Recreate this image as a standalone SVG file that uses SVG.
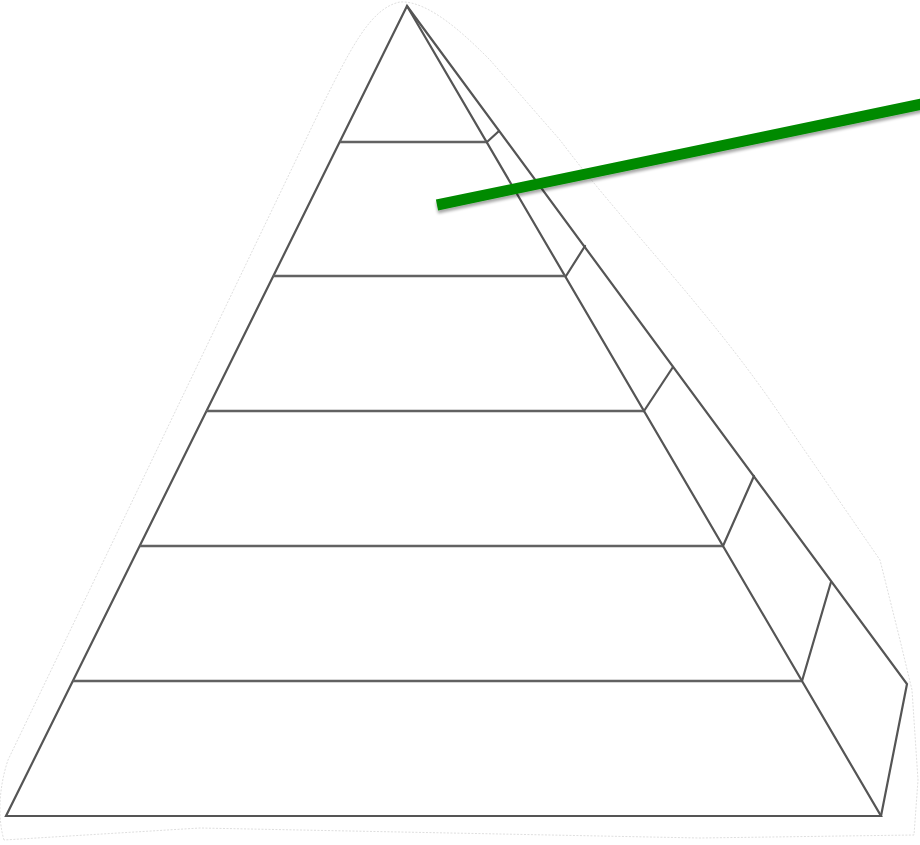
<svg xmlns="http://www.w3.org/2000/svg" width="920" height="845" viewBox="0 0 920 845">
<defs>
<style>
.edge{fill:none;stroke:#555555;stroke-width:2.2;stroke-linejoin:miter;stroke-linecap:round}
.tier{stroke:#626262;stroke-width:2.4;fill:none}
.halo{fill:#ffffff;stroke:#d6d6d6;stroke-width:0.8;stroke-dasharray:2 1.5}
</style>
<filter id="sh" x="-5%" y="-50%" width="110%" height="200%">
<feGaussianBlur in="SourceAlpha" stdDeviation="1.5"/>
<feOffset dx="0" dy="3"/>
<feComponentTransfer><feFuncA type="linear" slope="0.35"/></feComponentTransfer>
<feMerge><feMergeNode/><feMergeNode in="SourceGraphic"/></feMerge>
</filter>
</defs>
<rect width="920" height="845" fill="#ffffff"/>
<g id="outline">
<path class="halo" d="M4,840 C-2,820 -2,790 8,760 L320,110 C350,50 370,8 400,2 C430,0 470,40 490,60 L560,140 C620,220 700,300 770,400 L880,560 L900,640 L912,690 L918,780 L914,835 L700,838 L400,832 L200,828 Z"/>
</g>
<g id="pyramid-front">
<path class="edge" d="M407,6 L6,816 L881,816 Z"/>
</g>
<g id="pyramid-side">
<path class="edge" d="M407,6 L907,684 L881,816"/>
</g>
<g id="tiers">
<line class="tier" x1="340" y1="142" x2="487" y2="142"/>
<line class="tier" x1="273" y1="276" x2="566" y2="276"/>
<line class="tier" x1="206" y1="411" x2="644" y2="411"/>
<line class="tier" x1="140" y1="546" x2="723" y2="546"/>
<line class="tier" x1="73" y1="681" x2="802" y2="681"/>
</g>
<g id="side-dividers">
<line class="edge" x1="487" y1="142" x2="499" y2="131"/>
<line class="edge" x1="566" y1="276" x2="585" y2="246"/>
<line class="edge" x1="644" y1="411" x2="673" y2="367"/>
<line class="edge" x1="723" y1="546" x2="754" y2="476"/>
<line class="edge" x1="802" y1="681" x2="831" y2="582"/>
</g>
<g id="connectors">
<line x1="437" y1="205" x2="922" y2="104" stroke="#008a00" stroke-width="11" filter="url(#sh)"/>
</g>
</svg>
